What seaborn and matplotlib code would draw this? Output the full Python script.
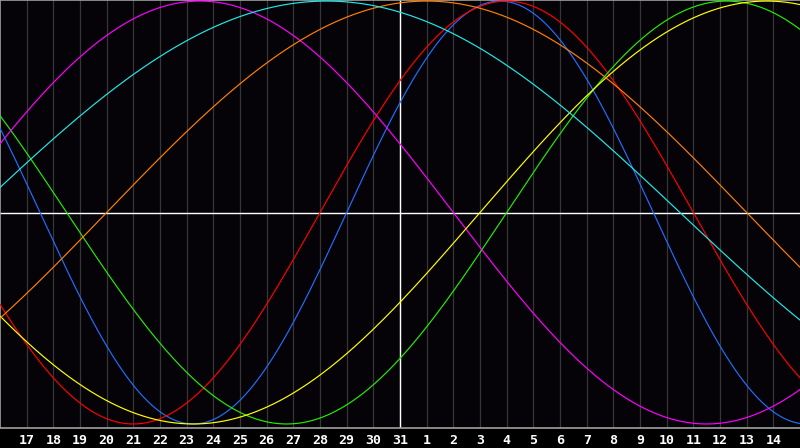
import numpy as np
import pandas as pd
import seaborn as sns
import matplotlib
matplotlib.use("Agg")
import matplotlib.pyplot as plt

# day labels along the bottom (index 0 is the 16th, index 15 is "today" = 31)
day_labels = [17, 18, 19, 20, 21, 22, 23, 24, 25, 26, 27, 28, 29, 30, 31,
              1, 2, 3, 4, 5, 6, 7, 8, 9, 10, 11, 12, 13, 14]
today_index = 15

# biorhythm cycles: period in days and day-in-cycle at the left edge
cycles = ["physical", "emotional", "intellectual", "intuitive",
          "aesthetic", "awareness", "spiritual"]
periods = [23, 28, 33, 38, 43, 48, 53]
cycle_day0 = [10, 16, 14, 2, 25, 44, 1]
colors = ["#1f6fff", "#ff0000", "#22ee00", "#ff00ff",
          "#ffff00", "#ff8000", "#22e8e8"]

t = np.linspace(0, 30, 901)
rows = []
for name, p, d0 in zip(cycles, periods, cycle_day0):
    rows.append(pd.DataFrame({"day": t, "value": np.sin(2 * np.pi * (d0 + t) / p), "cycle": name}))
df = pd.concat(rows, ignore_index=True)

sns.set_style("dark")
fig = plt.figure(figsize=(8, 4.48), dpi=100, facecolor="#000000")
ax = fig.add_axes([0, 20 / 448, 1, 428 / 448])
ax.set_facecolor("#050308")

# daily grid
for i in range(1, 30):
    ax.axvline(i, color="#363636", lw=0.9, zorder=0)

sns.lineplot(data=df, x="day", y="value", hue="cycle", hue_order=cycles,
             palette=colors, linewidth=0.85, legend=False, ax=ax, zorder=3)

ax.axhline(0, color="white", lw=1.0, zorder=2)
ax.axvline(today_index, color="white", lw=1.0, zorder=2)

ax.set_xlim(0, 30)
ax.set_ylim(-1.019, 1.005)
ax.grid(False)
ax.set_xlabel("")
ax.set_ylabel("")
ax.set_yticks([])
ax.set_xticks(range(1, 30))
ax.set_xticklabels([str(d) for d in day_labels], color="white",
                   fontsize=9.5, fontweight="bold", family="DejaVu Sans Mono")
ax.tick_params(axis="x", length=0, pad=4)

for side in ["left", "top", "bottom"]:
    ax.spines[side].set_color("#a0a0a0")
    ax.spines[side].set_linewidth(1.2)
ax.spines["right"].set_visible(False)

fig.savefig("out.png", dpi=100, facecolor="#000000")
